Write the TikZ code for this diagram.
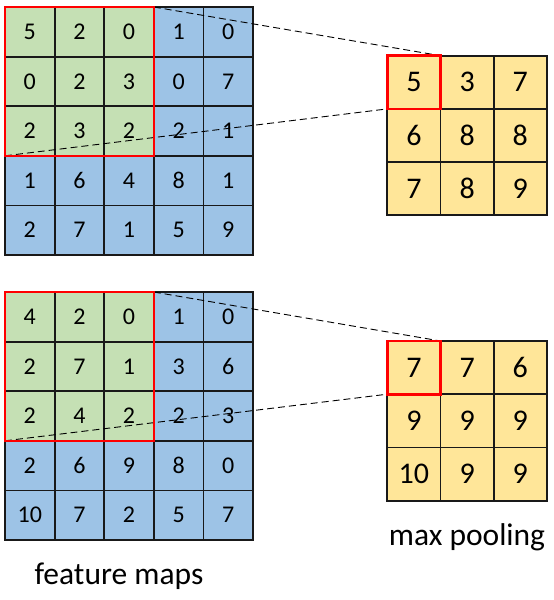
\documentclass[tikz,border=0pt]{standalone}
\usepackage{fontspec}
\setmainfont{Carlito}
\usetikzlibrary{calc}
\definecolor{mapgreen}{HTML}{C5E0B4}
\definecolor{mapblue}{HTML}{9DC3E6}
\definecolor{poolyellow}{HTML}{FFE699}

\begin{document}
\begin{tikzpicture}[x=1pt, y=-1pt,
    mapcell/.style={draw=black!90, line width=1.8pt, minimum size=49.6pt, inner sep=0pt, outer sep=0pt,
        font=\fontsize{24}{28}\selectfont},
    poolcell/.style={draw=black!90, line width=1.8pt, fill=poolyellow, minimum size=53.2pt, inner sep=0pt,
        outer sep=0pt, font=\fontsize{30}{34}\selectfont},
    window/.style={draw=red, line width=2.6pt},
    guide/.style={black, line width=0.9pt, dash pattern=on 7pt off 4pt},
    caption/.style={font=\fontsize{31.5}{36}\selectfont}]

\useasboundingbox (0,0) rectangle (554,600);

% --- TOP: feature map and its pooled map ---
\begin{scope}[shift={(5,7)}]
    \foreach \row [count=\r] in {{5,2,0,1,0},{0,2,3,0,7},{2,3,2,2,1},{1,6,4,8,1},{2,7,1,5,9}} {
        \foreach \v [count=\c] in \row {
            \def\cellcol{mapblue}
            \ifnum\r<4 \ifnum\c<4 \def\cellcol{mapgreen}\fi\fi
            \node[mapcell, fill=\cellcol] (top-\r-\c) at ({49.6*(\c-0.5)},{49.6*(\r-0.5)}) {\v};
        }
    }
\end{scope}

\begin{scope}[shift={(387.3,55.7)}]
    \foreach \row [count=\r] in {{5,3,7},{6,8,8},{7,8,9}} {
        \foreach \v [count=\c] in \row {
            \node[poolcell] (toppool-\r-\c) at ({53.2*(\c-0.5)},{53.2*(\r-0.5)}) {\v};
        }
    }
\end{scope}

% window and where it lands
\draw[guide] (top-1-3.north east) -- (toppool-1-1.north east);
\draw[guide] (top-3-1.south west) -- (toppool-1-1.south west);
\draw[window] (top-1-1.north west) rectangle (top-3-3.south east);
\draw[window] (toppool-1-1.north west) rectangle (toppool-1-1.south east);

% --- BOTTOM: second feature map ---
\begin{scope}[shift={(5,292)}]
    \foreach \row [count=\r] in {{4,2,0,1,0},{2,7,1,3,6},{2,4,2,2,3},{2,6,9,8,0},{10,7,2,5,7}} {
        \foreach \v [count=\c] in \row {
            \def\cellcol{mapblue}
            \ifnum\r<4 \ifnum\c<4 \def\cellcol{mapgreen}\fi\fi
            \node[mapcell, fill=\cellcol] (bot-\r-\c) at ({49.6*(\c-0.5)},{49.6*(\r-0.5)}) {\v};
        }
    }
\end{scope}

\begin{scope}[shift={(387.3,341)}]
    \foreach \row [count=\r] in {{7,7,6},{9,9,9},{10,9,9}} {
        \foreach \v [count=\c] in \row {
            \node[poolcell] (botpool-\r-\c) at ({53.2*(\c-0.5)},{53.2*(\r-0.5)}) {\v};
        }
    }
\end{scope}

\draw[guide] (bot-1-3.north east) -- (botpool-1-1.north east);
\draw[guide] (bot-3-1.south west) -- (botpool-1-1.south west);
\draw[window] (bot-1-1.north west) rectangle (bot-3-3.south east);
\draw[window] (botpool-1-1.north west) rectangle (botpool-1-1.south east);

% captions
\node[caption] (poollabel) at (467,537) {max pooling};
\node[caption] (maplabel) at (119,576) {feature maps};

\end{tikzpicture}
\end{document}
